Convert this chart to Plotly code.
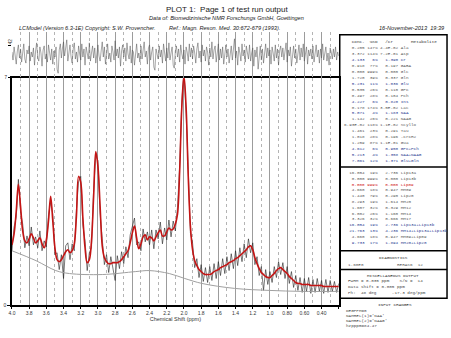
import plotly.graph_objects as go

W, H = 451, 338

# ---------------- data ----------------
ppm = [round(4.0 - 0.025 * i, 4) for i in range(153)]
ppm_res = [round(4.0 - 0.0125 * i, 5) for i in range(305)]

fit = [61, 72, 95, 122, 100, 75, 65, 63, 67, 72,
       68, 63, 65, 68, 62, 58, 66, 85, 110, 85,
       58, 46, 44, 46, 50, 54, 56, 53, 55, 62,
       90, 130, 124, 88, 58, 43, 46, 65, 110, 155,
       140, 100, 60, 48, 44, 42, 42, 43, 43, 43,
       44, 46, 49, 52, 55, 63, 73, 80, 68, 57,
       62, 69, 71, 66, 69, 68, 65, 69, 73, 76,
       70, 70, 74, 78, 76, 77, 82, 92, 135, 200,
       232, 200, 130, 80, 56, 45, 40, 36, 34, 32,
       31, 31, 31, 32, 34, 35, 36, 38, 39, 40,
       41, 43, 44, 45, 47, 48, 50, 52, 54, 56,
       59, 60, 56, 48, 42, 37, 33, 31, 29, 28,
       28, 30, 32, 35, 37, 38, 36, 34, 32, 29,
       27, 25, 23, 22, 22, 21, 21, 21, 21, 20,
       20, 20, 20, 20, 20, 19, 19, 19, 19, 19,
       19, 19, 19]

data = [55, 79, 89, 127, 94, 82, 58, 70, 60, 79,
        61, 69, 58, 75, 55, 65, 59, 91, 104, 92,
        51, 53, 36, 51, 27, 60, 63, 46, 62, 55,
        97, 125, 130, 81, 65, 35, 53, 58, 117, 151,
        146, 93, 67, 41, 51, 33, 49, 36, 25, 50,
        37, 54, 42, 59, 48, 71, 79, 88, 61, 64,
        55, 77, 64, 74, 61, 76, 57, 76, 67, 84,
        62, 78, 66, 86, 69, 85, 75, 99, 140, 205,
        236, 194, 137, 73, 63, 38, 47, 28, 41, 24,
        38, 23, 39, 25, 42, 27, 44, 30, 47, 32,
        49, 35, 52, 37, 55, 40, 58, 44, 62, 48,
        67, 53, 63, 41, 49, 30, 39, 15, 36, 21,
        34, 23, 39, 28, 44, 31, 43, 27, 39, 22,
        34, 18, 30, 15, 28, 13, 27, 14, 28, 12,
        26, 13, 27, 14, 25, 12, 26, 13, 25, 14,
        24, 13, 22]

resid = [3, -5, 8, -2, -9, 4, 10, -3, 6, -7, 2, 11, -4, -8, 5, 1, 9, -6, 3, -2,
         7, -10, 4, 12, -3, -6, 8, 2, -11, 5, 9, -4, 1, -7, 10, 3, -5, 6, -9, 4,
         -2, 8, -14, -18, 5, 11, -3, 7, 13, -1, 9, 15, -6, 4, 10, -2, -8, 6, 12, -4,
         3, -7, 9, 1, -5, 11, -2, 6, -10, 8, 3, -4, 12, -6, 2, 9, -3, 7, -8, 5,
         10, -1, -6, 4, 13, -2, 8, -9, 5, 11, -4, 2, -7, 9, 3, -5, 14, -1, 6, -3,
         8, -11, 4, 10, -2, 7, -6, 12, 1, -4, 9, -8, 5, 3, -10, 6, 11, -3, 2, -7,
         9, -4, 6, 13, -2, 4, -9, 7, 10, -5, 3, 8, -12, -15, 6, 1, -4, 9, -2, 5,
         -8, 11, 3, -6, 7, -3, 12, -5, 2, 8, -10, -13, 4, 9, -2, 6, -7, 10, 1, -4,
         5, -9, 8, 3, -6, 11, -2, 7, -4, 9, 2, -8, 6, 12, -3, 4, -7, 10, -1, 5,
         -6, 8, 3, -10, 7, -2, 13, -4, 5, 9, -7, 2, 11, -5, 6, -3, 8, -9, 4, 10,
         -2, 6, -8, 3, 9, -5, 7, 16, -3, 4, -10, 8, 2, -6, 11, -1, 5, -7, 9, 3,
         -4, 10, -6, 2, 7, -11, 5, -2, 8, -14, 3, 9, -5, 6, -8, 4, 11, -3, 7, -1,
         5, -9, 8, 2, -6, 10, -3, 6, -10, 4, 9, -2, 7, -5, 3, 12, -7, 5, -1, 8,
         -11, 4, 9, -3, 6, -8, 2, 10, -5, 7, -2, 11, -6, 3, 8, -9, 5, -1, 6, -4,
         9, -7, 3, 10, -2, 5, -8, 6, -3, 11, -5, 4, 8, -6, 2, -10, 7, 3, -4, 6,
         -2, 8, -5, 3, -1]

base_ppm = [4.0, 3.72, 3.49, 3.33, 2.95, 2.56, 2.40, 2.17, 1.99, 1.79, 1.41, 1.01, 0.63, 0.2]
base_h = [55, 45, 35, 32, 31, 34, 35, 32, 27, 22, 17, 15, 14, 14]

tick_vals = [4.0, 3.8, 3.6, 3.4, 3.2, 3.0, 2.8, 2.6, 2.4, 2.2, 2.0, 1.8, 1.6, 1.4, 1.2, 1.0, 0.8, 0.6, 0.4, 0.2]
tick_text = ["4.0", "3.8", "3.6", "3.4", "3.2", "3.0", "2.8", "2.6", "2.4", "2.2", "2.0", "1.8",
             "1.6", "1.4", "1.2", "1.0", "0.80", "0.60", "0.40", ""]
minor_vals = [3.9, 3.7, 3.5, 3.3, 3.1, 2.9, 2.7, 2.5, 2.3, 2.1, 1.9, 1.7, 1.5, 1.3, 1.1, 0.9, 0.7, 0.5, 0.3]

# table 1
conc1 = ["0.205", "3.372", "4.133", "0.918", "0.000", "1.720", "5.231", "0.535", "0.497", "4.227",
         "0.178", "5.071", "1.142", "6.93E-02", "1.461", "1.018", "1.259", "4.612", "5.213", "7.061"]
sd1 = ["147%", "114%", "6%", "77%", "999%", "39%", "11%", "26%", "28%", "6%",
       "174%", "4%", "26%", "118%", "23%", "28%", "87%", "6%", "4%", "12%"]
ratio1 = ["4.4E-02", "7.2E-01", "1.390", "0.197", "0.000", "0.337", "1.036", "0.110", "0.104", "0.820",
          "3.5E-02", "1.183", "0.221", "1.1E-02", "0.291", "0.196", "1.1E-01", "0.950", "1.358", "1.371"]
name1 = ["Ala", "Asp", "Cr", "GABA", "Glc", "Gln", "Glu", "GPC", "PCh", "Ins",
         "Lac", "NAA", "NAAG", "Scyllo", "Tau", "-CrCH2", "Gua", "GPC+PCh", "NAA+NAAG", "Glu+Gln"]
blue1 = ["Cr", "Glu", "Ins", "NAA", "GPC+PCh", "NAA+NAAG", "Glu+Gln"]

# table 2
conc2 = ["16.054", "0.000", "0.000", "4.660", "1.440", "8.293", "1.607", "6.002", "3.326",
         "16.054", "21.763", "4.660", "9.733"]
sd2 = ["19%", "999%", "999%", "18%", "79%", "19%", "32%", "26%", "32%", "19%", "13%", "18%", "17%"]
ratio2 = ["2.736", "0.000", "0.000", "0.947", "0.290", "1.614", "0.329", "1.160", "0.666",
          "2.736", "4.236", "0.947", "1.894"]
name2 = ["Lip13a", "Lip13b", "Lip09", "MM09", "Lip20", "MM20", "MM12", "MM14", "MM17",
         "Lip13a+Lip13b", "MM14+Lip13a+Lip13b", "MM09+Lip09", "MM20+Lip20"]
blue2 = ["Lip13a+Lip13b", "MM14+Lip13a+Lip13b", "MM20+Lip20"]
red2 = ["Lip09"]

misc_lines = ["FWHM = 0.035 ppm    S/N =  14", "Data shift = 0.005 ppm", "Ph:  48 deg      -17.3 deg/ppm"]
input_lines = ["DEGPPM=0", "NAMREL(1)='NAA'", "NAMREL(2)='NAAG'", "hzpppm=84.47"]

# ---------------- layout helpers ----------------
def px(x):
    return x / W


def py(y):
    return 1 - y / H


X0, X1 = 9, 338
Y_TOP_RES, Y_TOP, Y_BOT = 32, 79, 308

fig = go.Figure()

fig.add_trace(go.Scatter(x=ppm_res, y=resid, xaxis="x2", yaxis="y2", mode="lines",
                         line=dict(color="#505050", width=0.5), showlegend=False))
fig.add_trace(go.Scatter(x=ppm, y=data, mode="lines",
                         line=dict(color="#202020", width=0.6), showlegend=False))
fig.add_trace(go.Scatter(x=base_ppm, y=base_h, mode="lines", line_shape="spline",
                         line=dict(color="#a0a0a0", width=1), showlegend=False))
fig.add_trace(go.Scatter(x=ppm, y=fit, mode="lines", line_shape="spline",
                         line=dict(color="#c41414", width=1.6), showlegend=False))

grid_common = dict(range=[4.0, 0.2], tickvals=tick_vals, showgrid=True, gridcolor="#9c9c9c",
                   gridwidth=1, zeroline=False,
                   minor=dict(tickvals=minor_vals, showgrid=True, griddash="dot",
                              gridcolor="#b4b4b4", gridwidth=0.8))

fig.update_layout(
    width=W, height=H, margin=dict(l=0, r=0, t=0, b=0),
    paper_bgcolor="white", plot_bgcolor="white",
    font=dict(family="Liberation Sans", color="#333"),
    xaxis=dict(domain=[px(X0), px(X1)], anchor="y", ticktext=tick_text,
               showline=True, linecolor="black", linewidth=1.5, mirror=True,
               ticks="outside", ticklen=2, tickcolor="black", tickfont=dict(size=5, color="#333"),
               title=dict(text="Chemical Shift (ppm)", font=dict(size=5.5, color="#333"), standoff=1),
               **grid_common),
    yaxis=dict(domain=[py(Y_BOT), py(Y_TOP)], anchor="x", range=[0, 229], showgrid=False,
               zeroline=False, showline=True, linecolor="black", linewidth=1.5, mirror=True,
               tickvals=[0], ticktext=["0"], ticks="outside", ticklen=3, tickcolor="black",
               tickfont=dict(size=5, color="#333")),
    xaxis2=dict(domain=[px(X0), px(X1)], anchor="y2", showticklabels=False, showline=False,
                ticks="", **grid_common),
    yaxis2=dict(domain=[py(Y_TOP), py(Y_TOP_RES)], anchor="x2", range=[-23, 23], showgrid=False,
                zeroline=False, showline=False, tickvals=[-22, 9], ticktext=["7", ""],
                ticks="outside", ticklen=3, tickcolor="black", tickfont=dict(size=4.5, color="#333")),
)

ann = []


def text(x, y, s, size=4.3, color="#4a4a4a", family="Liberation Mono", xanchor="left", italic=False):
    ann.append(dict(x=px(x), y=py(y), xref="paper", yref="paper", text=s, showarrow=False,
                    xanchor=xanchor, yanchor="middle",
                    font=dict(size=size, color=color, family=family,
                              style="italic" if italic else "normal")))


# header texts
text(225, 10, "PLOT 1:  Page 1 of test run output", size=8, color="#222", family="Liberation Sans",
     xanchor="center")
text(225, 18.5, "Data of: Biomedizinische NMR Forschungs GmbH, Goettingen", size=5.6, color="#222",
     family="Liberation Sans", xanchor="center", italic=True)
text(14, 28.5, "LCModel (Version 6.3-1E) Copyright: S.W. Provencher.", size=5.6, color="#222",
     family="Liberation Sans", italic=True)
text(165, 28.5, "Ref.: Magn. Reson. Med. 30:672-679 (1993).", size=5.6, color="#222",
     family="Liberation Sans", italic=True)
text(446, 28.5, "16-November-2013  19:39", size=5.6, color="#222", family="Liberation Sans",
     xanchor="right", italic=True)
ann.append(dict(x=px(3), y=py(36), xref="paper", yref="paper", text="42", showarrow=False,
                textangle=-90, font=dict(size=4.5, color="#333")))

# table
TX = 341
text(TX, 42, "   Conc.  %SD   /Cr       Metabolite", color="#333")


def row(c, s, r, n):
    return f"{c:>8} {s:>4} {r:>7} {n}"


for i in range(len(name1)):
    col = "#2e3f95" if name1[i] in blue1 else "#5a5a5a"
    text(TX, 48 + 6.0 * i, row(conc1[i], sd1[i], ratio1[i], name1[i]), color=col)
for i in range(len(name2)):
    col = "#2e3f95" if name2[i] in blue2 else ("#d01818" if name2[i] in red2 else "#5a5a5a")
    text(TX, 174 + 5.85 * i, row(conc2[i], sd2[i], ratio2[i], name2[i]), color=col)

text(393, 260, "DIAGNOSTICS", color="#333", xanchor="center")
text(TX + 4, 266.5, "1.60E0", color="#5a5a5a")
text(395, 266.5, "RERAS6  12", color="#5a5a5a")
text(393, 277.5, "MISCELLANEOUS OUTPUT", color="#333", xanchor="center")
for i, s in enumerate(misc_lines):
    text(TX + 4, 283.5 + 6 * i, s, color="#4a4a4a")
text(395, 307, "INPUT CHANGES", color="#333", xanchor="center")
for i, s in enumerate(input_lines):
    text(TX + 2, 313 + 5.3 * i, s, color="#4a4a4a")

fig.update_layout(annotations=ann)

# table boxes
BX0, BX1 = 339, 447
shapes = [dict(type="rect", xref="paper", yref="paper", x0=px(BX0), x1=px(BX1), y0=py(301), y1=py(35),
               line=dict(color="black", width=1.5))]
for yy in [168.5, 253, 272]:
    shapes.append(dict(type="line", xref="paper", yref="paper", x0=px(BX0), x1=px(BX1),
                       y0=py(yy), y1=py(yy), line=dict(color="black", width=1.5)))
fig.update_layout(shapes=shapes)

fig.write_html("out.html")
